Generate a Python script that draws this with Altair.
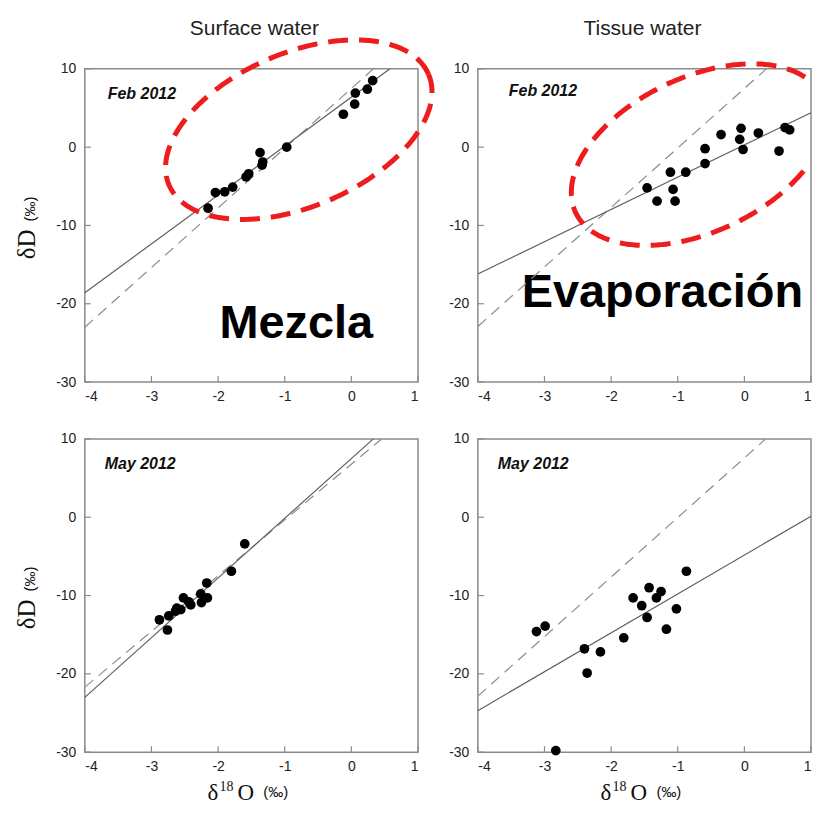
import altair as alt
import pandas as pd
import numpy as np

# ---------------- data ----------------
x_ticks = [-4, -3, -2, -1, 0, 1]
y_ticks = [10, 0, -10, -20, -30]

feb_surf_x = [-2.15, -2.04, -1.90, -1.78, -1.58, -1.54, -1.37, -1.33, -1.34, -0.97, -0.12, 0.05, 0.06, 0.24, 0.32]
feb_surf_y = [-7.8, -5.8, -5.7, -5.1, -3.8, -3.4, -0.7, -1.9, -2.3, 0.0, 4.2, 5.5, 6.9, 7.4, 8.5]

feb_tis_x = [-1.46, -1.31, -1.11, -1.07, -1.04, -0.88, -0.59, -0.59, -0.35, -0.05, -0.07, -0.02, 0.21, 0.52, 0.61, 0.68]
feb_tis_y = [-5.2, -6.9, -3.2, -5.4, -6.9, -3.2, -0.2, -2.1, 1.6, 2.4, 1.0, -0.3, 1.8, -0.5, 2.5, 2.2]

may_surf_x = [-2.88, -2.76, -2.74, -2.64, -2.62, -2.56, -2.52, -2.41, -2.44, -2.26, -2.25, -2.16, -2.17, -1.80, -1.60]
may_surf_y = [-13.1, -14.4, -12.6, -12.0, -11.6, -11.8, -10.3, -11.2, -10.8, -9.8, -10.9, -10.3, -8.4, -6.9, -3.4]

may_tis_x = [-3.12, -2.99, -2.83, -2.40, -2.36, -2.16, -1.81, -1.67, -1.54, -1.43, -1.46, -1.32, -1.25, -1.17, -1.02, -0.87]
may_tis_y = [-14.6, -13.9, -29.8, -16.8, -19.9, -17.2, -15.4, -10.3, -11.3, -9.0, -12.8, -10.3, -9.5, -14.3, -11.7, -6.9]

# regression (solid) and meteoric water (dashed) lines: end points
feb_surf_fit_x, feb_surf_fit_y = [-4, 0.58], [-18.6, 10]
feb_surf_mwl_x, feb_surf_mwl_y = [-4, 0.33], [-23.0, 10]
feb_tis_fit_x, feb_tis_fit_y = [-4, 1], [-16.2, 4.4]
feb_tis_mwl_x, feb_tis_mwl_y = [-4, 0.33], [-22.9, 10]
may_surf_fit_x, may_surf_fit_y = [-4, 0.33], [-23.0, 10]
may_surf_mwl_x, may_surf_mwl_y = [-4, 0.455], [-21.7, 10]
may_tis_fit_x, may_tis_fit_y = [-4, 1], [-24.7, 0.13]
may_tis_mwl_x, may_tis_mwl_y = [-4, 0.32], [-22.85, 10]

col_titles = ["Surface water", "Tissue water"]
period_labels = ["Feb 2012", "Feb 2012", "May 2012", "May 2012"]
annotations = ["Mezcla", "Evaporación"]

# ---------------- layout / style ----------------
W, H = 334, 314
FONT = "Liberation Sans"
SERIF = "Liberation Serif"
FRAME = "#8a8a8a"
RED = "#ee1c1c"

xscale = alt.Scale(domain=[-4, 1], nice=False, zero=False)
yscale = alt.Scale(domain=[-30, 10], nice=False, zero=False)
xaxis = alt.Axis(values=x_ticks, title=None, domain=False, ticks=False, grid=False,
                 labelExpr="'' + datum.value", labelFont=FONT, labelFontSize=14,
                 labelColor="#222", labelPadding=7)
yaxis = alt.Axis(values=y_ticks, title=None, domain=False, ticks=False, grid=False,
                 labelExpr="'' + datum.value", labelFont=FONT, labelFontSize=14,
                 labelColor="#222", labelPadding=9)
X = alt.X("x:Q", scale=xscale, axis=xaxis)
Y = alt.Y("y:Q", scale=yscale, axis=yaxis)


def ellipse_df(cx, cy, a, b, ang, pxmax=None):
    t = np.linspace(0, 2 * np.pi, 361)[:-1]
    th = np.radians(ang)
    px = cx + a * np.cos(t) * np.cos(th) - b * np.sin(t) * np.sin(th)
    py = cy - (a * np.cos(t) * np.sin(th) + b * np.sin(t) * np.cos(th))
    inside = np.ones_like(px, dtype=bool) if pxmax is None else px <= pxmax
    if inside.all():
        px = np.append(px, px[0])
        py = np.append(py, py[0])
    else:
        k = [i for i in range(len(px)) if inside[i] and not inside[i - 1]][0]
        px, py, inside = np.roll(px, -k), np.roll(py, -k), np.roll(inside, -k)
        n = int(np.argmin(inside))
        px, py = px[:n], py[:n]
    return pd.DataFrame({"x": -4 + px / W * 5, "y": 10 - py / H * 40, "i": np.arange(len(px))})


def txt(s, x, y, **kw):
    return alt.Chart(pd.DataFrame({"t": [s]})).mark_text(**kw).encode(
        text="t:N", x=alt.value(x), y=alt.value(y))


def panel(px, py, fx, fy, mx, my, label, lpos, extra, front=()):
    pts = alt.Chart(pd.DataFrame({"x": px, "y": py})).mark_circle(
        size=95, color="black", opacity=1).encode(x=X, y=Y)
    fit = alt.Chart(pd.DataFrame({"x": fx, "y": fy})).mark_line(
        color="#5e5e5e", strokeWidth=1.2, clip=True).encode(x=X, y=Y)
    mwl = alt.Chart(pd.DataFrame({"x": mx, "y": my})).mark_line(
        color="#8c8c8c", strokeWidth=1.2, strokeDash=[11, 7], clip=True).encode(x=X, y=Y)
    yt = alt.Chart(pd.DataFrame({"y": y_ticks})).mark_rule(color=FRAME, strokeWidth=1.2).encode(
        y=Y, x=alt.value(0), x2=alt.value(6))
    xt = alt.Chart(pd.DataFrame({"x": x_ticks})).mark_rule(color=FRAME, strokeWidth=1.2).encode(
        x=X, y=alt.value(H), y2=alt.value(H - 6))
    lab = txt(label, lpos[0], lpos[1], align="left", baseline="middle", font=FONT,
              fontSize=16, fontWeight="bold", fontStyle="italic", color="#111")
    return alt.layer(*extra, yt, xt, mwl, fit, pts, lab, *front).properties(width=W, height=H)


def ellipse_layer(df):
    return alt.Chart(df).mark_line(color=RED, strokeWidth=5, strokeDash=[20, 11], clip=False).encode(
        x=X, y=Y, order="i:Q")


def ytitle():
    return [
        txt("δD", -50, 161, align="right", baseline="alphabetic", angle=270,
            font=SERIF, fontSize=25, color="#111"),
        txt("(‰)", -50, 153, align="left", baseline="alphabetic", angle=270,
            font=FONT, fontSize=15, color="#111"),
    ]


def xtitle():
    return [
        txt("δ", 123, 362, align="left", baseline="alphabetic", font=SERIF, fontSize=23, color="#111"),
        txt("18", 135, 353, align="left", baseline="alphabetic", font=SERIF, fontSize=14, color="#111"),
        txt("O", 153, 362, align="left", baseline="alphabetic", font=SERIF, fontSize=23, color="#111"),
        txt("(‰)", 179, 359, align="left", baseline="alphabetic", font=FONT, fontSize=15, color="#111"),
    ]


anchor = alt.Chart(pd.DataFrame({"a": [0]})).mark_rect(color="white").encode(
    x=alt.value(-76), x2=alt.value(-75), y=alt.value(-59), y2=alt.value(-58))

tl = panel(feb_surf_x, feb_surf_y, feb_surf_fit_x, feb_surf_fit_y, feb_surf_mwl_x, feb_surf_mwl_y,
           period_labels[0], (23, 25),
           [anchor,
            txt(col_titles[0], 170, -34, align="center", baseline="alphabetic", font=FONT,
                fontSize=21, color="#222"),
            txt(annotations[0], 212, 270, align="center", baseline="alphabetic", font=FONT,
                fontSize=47, fontWeight="bold", color="black")] + ytitle(),
           [ellipse_layer(ellipse_df(214.5, 61, 141.4, 77.0, 23.1))])

tr = panel(feb_tis_x, feb_tis_y, feb_tis_fit_x, feb_tis_fit_y, feb_tis_mwl_x, feb_tis_mwl_y,
           period_labels[1], (31, 22),
           [txt(col_titles[1], 165, -34, align="center", baseline="alphabetic", font=FONT,
                fontSize=21, color="#222"),
            txt(annotations[1], 185, 239, align="center", baseline="alphabetic", font=FONT,
                fontSize=47, fontWeight="bold", color="black")],
           [ellipse_layer(ellipse_df(221.7, 86, 136.6, 77.5, 25.1, pxmax=329))])

bl = panel(may_surf_x, may_surf_y, may_surf_fit_x, may_surf_fit_y, may_surf_mwl_x, may_surf_mwl_y,
           period_labels[2], (20, 25), ytitle() + xtitle())

br = panel(may_tis_x, may_tis_y, may_tis_fit_x, may_tis_fit_y, may_tis_mwl_x, may_tis_mwl_y,
           period_labels[3], (20, 25), xtitle())

chart = alt.concat(tl, tr, bl, br, columns=2, spacing={"row": 57, "column": 60},
                   bounds="flush").properties(padding=0, background="white").configure_view(
    stroke=FRAME, strokeWidth=1.5)

chart.save("out.html", embed_options={"renderer": "svg", "actions": False})
